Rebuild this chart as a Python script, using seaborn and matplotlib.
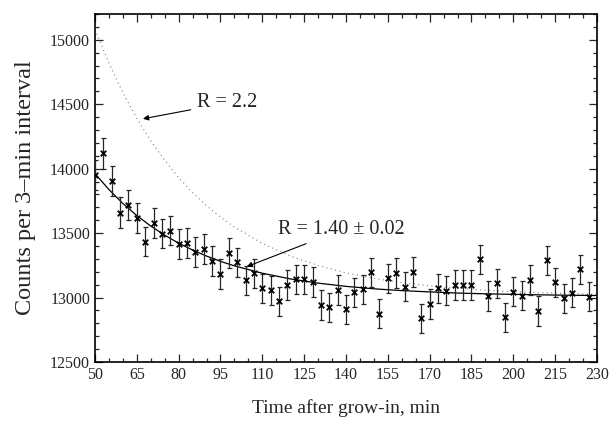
import numpy as np
import pandas as pd

import seaborn as sns
import matplotlib.pyplot as plt
from matplotlib.ticker import MultipleLocator


# measured counts, one point per 3-min interval
times = [50, 53, 56, 59, 62, 65, 68, 71, 74, 77,
    80, 83, 86, 89, 92, 95, 98, 101, 104, 107,
    110, 113, 116, 119, 122, 125, 128, 131, 134, 137,
    140, 143, 146, 149, 152, 155, 158, 161, 164, 167,
    170, 173, 176, 179, 182, 185, 188, 191, 194, 197,
    200, 203, 206, 209, 212, 215, 218, 221, 224, 227]
counts = [13950, 14120, 13905, 13660, 13720, 13620, 13435, 13580, 13497, 13520,
    13415, 13425, 13355, 13374, 13285, 13185, 13343, 13273, 13133, 13188,
    13071, 13055, 12970, 13100, 13141, 13141, 13123, 12942, 12924, 13058,
    12909, 13040, 13064, 13195, 12875, 13149, 13192, 13085, 13199, 12838,
    12950, 13071, 13053, 13097, 13097, 13097, 13296, 13012, 13110, 12846,
    13045, 13015, 13136, 12895, 13288, 13118, 12993, 13037, 13218, 13006]
count_err = [118, 119, 118, 117, 117, 117, 116, 117, 116, 116,
    116, 116, 116, 116, 115, 115, 116, 115, 115, 115,
    114, 114, 114, 115, 115, 115, 115, 114, 114, 114,
    114, 114, 114, 115, 114, 115, 115, 114, 115, 113,
    114, 114, 114, 114, 114, 114, 115, 114, 115, 113,
    114, 114, 115, 114, 115, 115, 114, 114, 115, 114]

# curves
curve_t = [50, 55, 60, 65, 70, 75, 80, 85, 90, 95, 100,
    110, 120, 130, 140, 150, 160, 170, 180, 190, 200, 210, 220, 230]
fit_r140 = [13962, 13838, 13730, 13636, 13555, 13484, 13422, 13369, 13322, 13281, 13246,
    13189, 13145, 13112, 13087, 13068, 13054, 13044, 13035, 13029, 13025, 13021, 13018, 13016]
fit_r22 = [15080, 14819, 14590, 14391, 14216, 14064, 13931, 13815, 13713, 13624, 13547,
    13420, 13323, 13249, 13192, 13149, 13116, 13091, 13072, 13057, 13046, 13038, 13031, 13026]

x_ticks = [50, 65, 80, 95, 110, 125, 140, 155, 170, 185, 200, 215, 230]
y_ticks = [12500, 13000, 13500, 14000, 14500, 15000]


sns.set_style("ticks")
plt.rcParams["font.family"] = ["Liberation Serif", "DejaVu Serif"]

fig = plt.figure(figsize=(6.1, 4.26), dpi=100)
ax = fig.add_axes([0.1557, 0.1502, 0.823, 0.8169])

# curves
sns.lineplot(x=curve_t, y=fit_r22, ax=ax, color="0.5",
    linewidth=0.8, linestyle=(0, (1, 3)))
sns.lineplot(x=curve_t, y=fit_r140, ax=ax, color="black", linewidth=0.9)

# data points
ax.errorbar(times, counts, yerr=count_err, fmt="none", ecolor="0.15",
    elinewidth=0.9, capsize=1.8, capthick=0.9, zorder=3)
sns.scatterplot(x=times, y=counts, marker="x", s=16, color="black",
    linewidth=1.3, ax=ax, zorder=4)

arrow = dict(arrowstyle="-|>", color="black", lw=0.8, mutation_scale=8,
    shrinkA=2, shrinkB=0)
ax.annotate("R = 2.2", xy=(67.2, 14387), xytext=(86.5, 14510),
    ha="left", va="center", fontsize=14.5, arrowprops=arrow)
ax.annotate("R = 1.40 \u00b1 0.02", xy=(104.4, 13240), xytext=(115.8, 13525),
    ha="left", va="center", fontsize=14.5, arrowprops=arrow)

ax.set_xlim(50, 230)
ax.set_ylim(12500, 15200)
ax.set_xticks(x_ticks)
ax.set_yticks(y_ticks)
ax.xaxis.set_minor_locator(MultipleLocator(5))
ax.yaxis.set_minor_locator(MultipleLocator(100))
ax.tick_params(which="both", direction="in", top=True, right=True,
    width=0.9, labelsize=11.5)
ax.tick_params(which="major", length=6)
ax.tick_params(which="minor", length=3)
for s in ax.spines.values():
    s.set_linewidth(1.2)
    s.set_color("black")

ax.set_xlabel("Time after grow-in, min", fontsize=14, labelpad=12)
ax.set_ylabel("Counts per 3\u2013min interval", fontsize=17.5, labelpad=10)

fig.savefig("out.png", dpi=100)
